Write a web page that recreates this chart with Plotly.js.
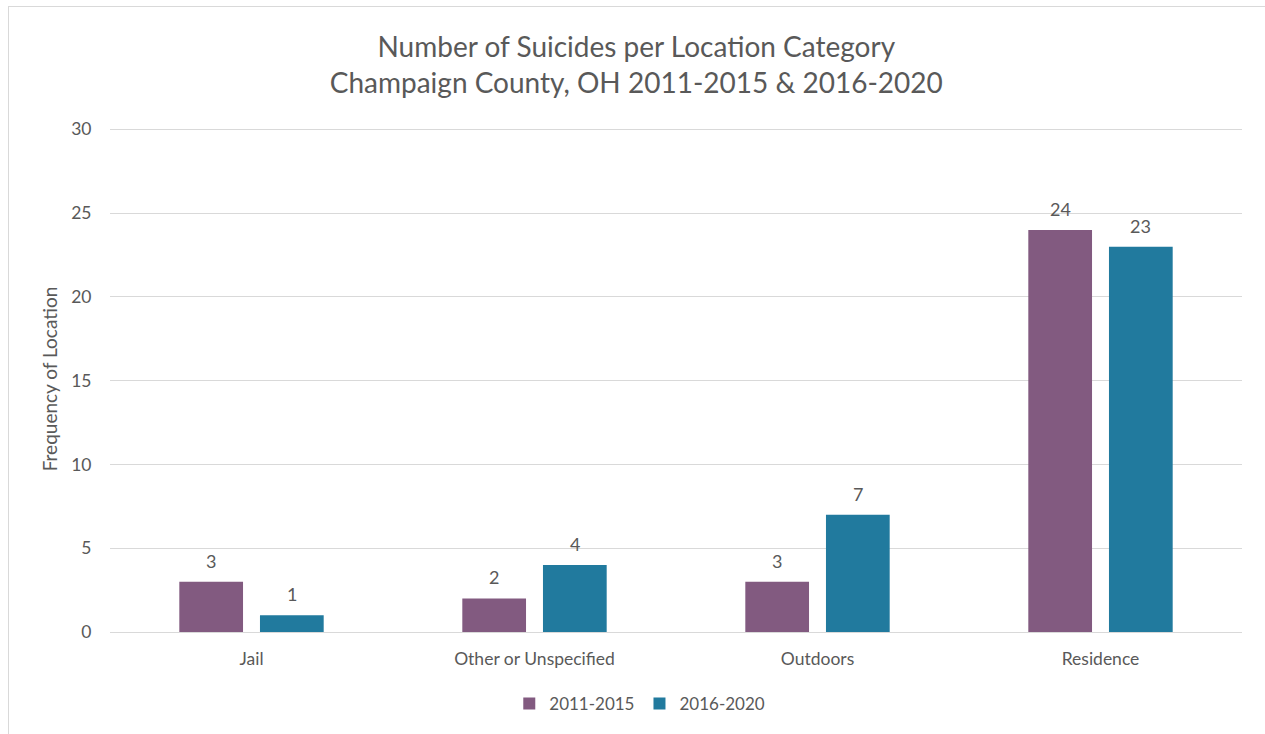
<!DOCTYPE html>
<html><head><meta charset="utf-8">
<script src="https://cdn.plot.ly/plotly-3.0.1.min.js"></script>
<style>html,body{margin:0;padding:0;background:#fff;}#frame{position:absolute;left:8px;top:6px;width:1256px;height:740px;border:1px solid #d9d9d9;pointer-events:none;}</style>
</head><body>
<div id="chart" style="width:1265px;height:734px;"></div>
<div id="frame"></div>
<script>
const categories = ["Jail", "Other or Unspecified", "Outdoors", "Residence"];
const series1Name = "2011-2015";
const series1 = [3, 2, 3, 24];
const series2Name = "2016-2020";
const series2 = [1, 4, 7, 23];
const yTicks = [0, 5, 10, 15, 20, 25, 30];

const gray = "#595959";
const fontFam = "Lato, 'Open Sans', sans-serif";
const bargap = 0.43, bargroupgap = 0.21;
const plotW = 1265 - 110 - 23;
const slotPx = plotW / categories.length * (1 - bargap) / 2;

const traces = [
  {type: "bar", name: series1Name, x: categories, y: series1, marker: {color: "#825a80"}},
  {type: "bar", name: series2Name, x: categories, y: series2, marker: {color: "#217a9e"}}
];
const annotations = [];
[series1, series2].forEach((vals, si) => {
  vals.forEach((v, i) => {
    annotations.push({x: categories[i], y: v, xref: "x", yref: "y", text: String(v),
      showarrow: false, yanchor: "bottom", yshift: 8, xshift: (si === 0 ? -1 : 1) * slotPx / 2,
      font: {family: fontFam, size: 18, color: gray}});
  });
});
const layout = {
  width: 1265, height: 734,
  margin: {l: 110, r: 23, t: 126, b: 99},
  paper_bgcolor: "#fff", plot_bgcolor: "#fff",
  font: {family: fontFam, color: gray, size: 17},
  title: {text: "Number of Suicides per Location Category<br>Champaign County, OH 2011-2015 & 2016-2020",
    font: {family: fontFam, size: 28, color: gray}, x: 0.503, xanchor: "center", xref: "container",
    y: 0.923, yanchor: "top", yref: "container"},
  barmode: "group", bargap: bargap, bargroupgap: bargroupgap,
  xaxis: {type: "category", range: [-0.5, 3.5], showgrid: false, showline: true, linecolor: "#d9d9d9",
    ticks: "outside", ticklen: 11, tickcolor: "rgba(0,0,0,0)", tickfont: {size: 17.5, color: gray}},
  yaxis: {range: [0, 30.2], tickvals: yTicks, showgrid: true, gridcolor: "#d9d9d9", zeroline: false,
    ticks: "outside", ticklen: 14, tickcolor: "rgba(0,0,0,0)", tickfont: {size: 17.5, color: gray},
    title: {text: "Frequency of Location", font: {size: 19, color: gray}, standoff: 8}},
  legend: {orientation: "h", x: 0.468, xanchor: "center", y: -0.142, yanchor: "middle",
    font: {size: 17, color: gray}, itemwidth: 30},
  annotations: annotations,
  showlegend: true
};
Plotly.newPlot("chart", traces, layout, {displayModeBar: false, staticPlot: true});
</script>
</body></html>
